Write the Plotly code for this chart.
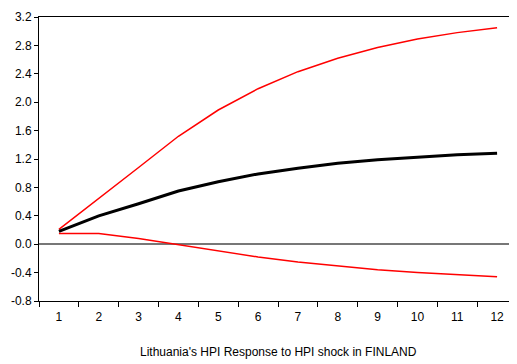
import plotly.graph_objects as go

periods = ["1", "2", "3", "4", "5", "6", "7", "8", "9", "10", "11", "12"]
response = [0.18, 0.40, 0.57, 0.75, 0.88, 0.99, 1.07, 1.14, 1.19, 1.23, 1.26, 1.28]
upper = [0.21, 0.64, 1.08, 1.52, 1.89, 2.19, 2.43, 2.62, 2.77, 2.89, 2.98, 3.05]
lower = [0.15, 0.15, 0.08, -0.01, -0.10, -0.18, -0.25, -0.31, -0.36, -0.40, -0.43, -0.46]
ytick_vals = [-0.8, -0.4, 0.0, 0.4, 0.8, 1.2, 1.6, 2.0, 2.4, 2.8, 3.2]
ytick_text = ["-0.8", "-0.4", "0.0", "0.4", "0.8", "1.2", "1.6", "2.0", "2.4", "2.8", "3.2"]
title_text = "Lithuania's HPI Response to HPI shock in FINLAND"

fig = go.Figure()
fig.add_trace(go.Scatter(x=periods, y=upper, mode="lines",
                         line=dict(color="#ff0000", width=1.5), showlegend=False))
fig.add_trace(go.Scatter(x=periods, y=lower, mode="lines",
                         line=dict(color="#ff0000", width=1.5), showlegend=False))
fig.add_trace(go.Scatter(x=periods, y=response, mode="lines",
                         line=dict(color="#000000", width=3), showlegend=False))

fig.update_layout(
    width=509, height=356,
    margin=dict(l=31, r=0, t=9, b=63, autoexpand=False),
    paper_bgcolor="white", plot_bgcolor="white",
    font=dict(family="Liberation Sans, Arial, sans-serif", size=12, color="black"),
    xaxis=dict(type="category", range=[-0.5, 11.5], tickson="boundaries",
               ticks="outside", ticklen=5, ticklabelstandoff=5,
               tickcolor="black", showline=True, linecolor="black", linewidth=1,
               mirror=True, showgrid=False, zeroline=False,
               tickfont=dict(size=12)),
    yaxis=dict(range=[-0.8, 3.2], tickvals=ytick_vals, ticktext=ytick_text,
               ticks="outside", ticklen=4, tickcolor="black",
               showline=True, linecolor="black", linewidth=1, mirror=True,
               showgrid=False, zeroline=True, zerolinecolor="#777777",
               zerolinewidth=1.5, tickfont=dict(size=12)),
    annotations=[dict(text=title_text, xref="paper", yref="paper",
                      x=0.5, y=-0.18, xanchor="center", yanchor="middle",
                      showarrow=False, font=dict(size=12))],
)

fig.write_html("out.html")
